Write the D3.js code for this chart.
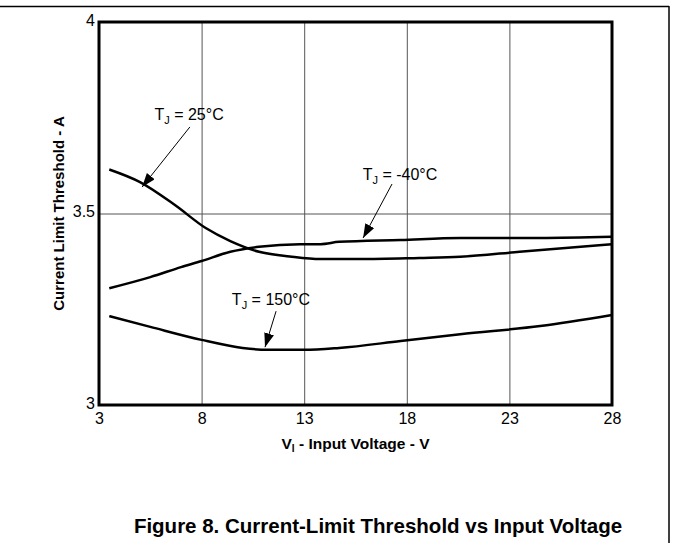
<!DOCTYPE html>
<html>
<head>
<meta charset="utf-8">
<script src="https://cdn.jsdelivr.net/npm/d3@7"></script>
<style>
  html, body { margin: 0; padding: 0; background: #fff; }
  svg { display: block; font-family: "Liberation Sans", Arial, sans-serif; }
</style>
</head>
<body>
<svg id="chart" width="673" height="543"></svg>
<script>
// ---- data ----
const xTicks = [3, 8, 13, 18, 23, 28];
const yTicks = [3, 3.5, 4];
const yTickLabels = ["3", "3.5", "4"];

const v25 = [3.5, 5, 6.7, 8.2, 9.4, 10.8, 12.3, 13.8, 15.7, 18.6, 20.6, 23.5, 28];
const i25 = [3.615, 3.582, 3.522, 3.462, 3.428, 3.400, 3.388, 3.381, 3.381, 3.384, 3.387, 3.400, 3.420];

const vM40 = [3.5, 5.5, 7, 8, 9.4, 10.8, 12.8, 13.8, 14.7, 17.7, 20.6, 24.5, 28];
const iM40 = [3.305, 3.334, 3.360, 3.376, 3.400, 3.413, 3.420, 3.420, 3.426, 3.431, 3.436, 3.436, 3.439];

const v150 = [3.5, 5.5, 8, 10, 11.2, 13, 14.7, 17.7, 20.6, 24.5, 28];
const i150 = [3.232, 3.204, 3.170, 3.149, 3.144, 3.144, 3.149, 3.167, 3.185, 3.206, 3.235];

const labelTemps = ["25°C", "-40°C", "150°C"];
// annotation anchor positions in data units: label centre, arrow start, arrow tip
const labelV = [7.39, 17.67, 11.38];
const labelI = [3.758, 3.600, 3.274];
const arrowFromV = [7.43, 17.28, 11.63];
const arrowFromI = [3.726, 3.577, 3.245];
const arrowToV = [5.1, 15.87, 11.09];
const arrowToI = [3.569, 3.436, 3.151];

// ---- layout ----
const svg = d3.select("#chart");
const FONT = "'Liberation Sans', Arial, sans-serif";
const L = 99, R = 612, T = 22, B = 405;
const x = d3.scaleLinear().domain([3, 28]).range([L, R]);
const y = d3.scaleLinear().domain([3, 4]).range([B, T]);

// outer frame (top and right rules)
svg.append("line").attr("x1", 0).attr("x2", 669).attr("y1", 6.5).attr("y2", 6.5)
  .attr("stroke", "#000").attr("stroke-width", 1.5);
svg.append("line").attr("x1", 669).attr("x2", 669).attr("y1", 6).attr("y2", 543)
  .attr("stroke", "#000").attr("stroke-width", 1.5);

// grid
const gx = svg.append("g").attr("transform", `translate(0,${B})`)
  .call(d3.axisBottom(x).tickValues(xTicks.slice(1, -1)).tickSize(-(B - T)).tickFormat(""));
gx.select(".domain").remove();
gx.selectAll("line").attr("stroke", "#555").attr("stroke-width", 1);

const gy = svg.append("g").attr("transform", `translate(${L},0)`)
  .call(d3.axisLeft(y).tickValues([3.5]).tickSize(-(R - L)).tickFormat(""));
gy.select(".domain").remove();
gy.selectAll("line").attr("stroke", "#555").attr("stroke-width", 1);

// tick labels
const ax = svg.append("g").attr("transform", `translate(0,${B})`)
  .call(d3.axisBottom(x).tickValues(xTicks).tickSize(0).tickPadding(8).tickFormat(d3.format("d")));
ax.attr("font-size", 16).attr("font-family", FONT);
ax.select(".domain").remove();
ax.selectAll("text").attr("fill", "#000");

const ay = svg.append("g").attr("transform", `translate(${L},0)`)
  .call(d3.axisLeft(y).tickValues(yTicks).tickSize(0).tickPadding(4)
    .tickFormat((d, i) => yTickLabels[i]));
ay.attr("font-size", 16).attr("font-family", FONT);
ay.select(".domain").remove();
ay.selectAll("text").attr("fill", "#000").attr("dy", "0.2em");

// curves
const line = d3.line().x(d => x(d[0])).y(d => y(d[1])).curve(d3.curveMonotoneX);
[[v25, i25], [vM40, iM40], [v150, i150]].forEach(([vs, is]) => {
  svg.append("path").datum(vs.map((v, i) => [v, is[i]]))
    .attr("d", line).attr("fill", "none").attr("stroke", "#000")
    .attr("stroke-width", 2.5).attr("stroke-linejoin", "round");
});

// plot frame
svg.append("rect").attr("x", L).attr("y", T).attr("width", R - L).attr("height", B - T)
  .attr("fill", "none").attr("stroke", "#000").attr("stroke-width", 3);

// arrow marker
svg.append("defs").append("marker").attr("id", "arr")
  .attr("viewBox", "0 0 14 10").attr("refX", 14).attr("refY", 5)
  .attr("markerWidth", 14).attr("markerHeight", 10).attr("markerUnits", "userSpaceOnUse")
  .attr("orient", "auto")
  .append("path").attr("d", "M0,0 L14,5 L0,10 Z").attr("fill", "#000");

// annotations
labelTemps.forEach((t, k) => {
  svg.append("line")
    .attr("x1", x(arrowFromV[k])).attr("y1", y(arrowFromI[k]))
    .attr("x2", x(arrowToV[k])).attr("y2", y(arrowToI[k]))
    .attr("stroke", "#000").attr("stroke-width", 1).attr("marker-end", "url(#arr)");
  const tx = svg.append("text").attr("x", x(labelV[k])).attr("y", y(labelI[k]) + 5)
    .attr("text-anchor", "middle").attr("font-size", 16).attr("fill", "#000");
  tx.append("tspan").text("T");
  tx.append("tspan").attr("font-size", 11).attr("dy", 4).text("J");
  tx.append("tspan").attr("dy", -4).text(" = " + t);
});

// axis titles
const xt = svg.append("text").attr("x", (L + R) / 2).attr("y", 449)
  .attr("text-anchor", "middle").attr("font-size", 15.5).attr("font-weight", "bold");
xt.append("tspan").text("V");
xt.append("tspan").attr("font-size", 10).attr("dy", 3).text("I");
xt.append("tspan").attr("dy", -3).text(" - Input Voltage - V");

svg.append("text").attr("transform", `translate(64,${(T + B) / 2}) rotate(-90)`)
  .attr("text-anchor", "middle").attr("font-size", 15).attr("font-weight", "bold")
  .text("Current Limit Threshold - A");

// caption
svg.append("text").attr("x", 378).attr("y", 533).attr("text-anchor", "middle")
  .attr("font-size", 20.5).attr("font-weight", "bold")
  .text("Figure 8. Current-Limit Threshold vs Input Voltage");
</script>
</body>
</html>
